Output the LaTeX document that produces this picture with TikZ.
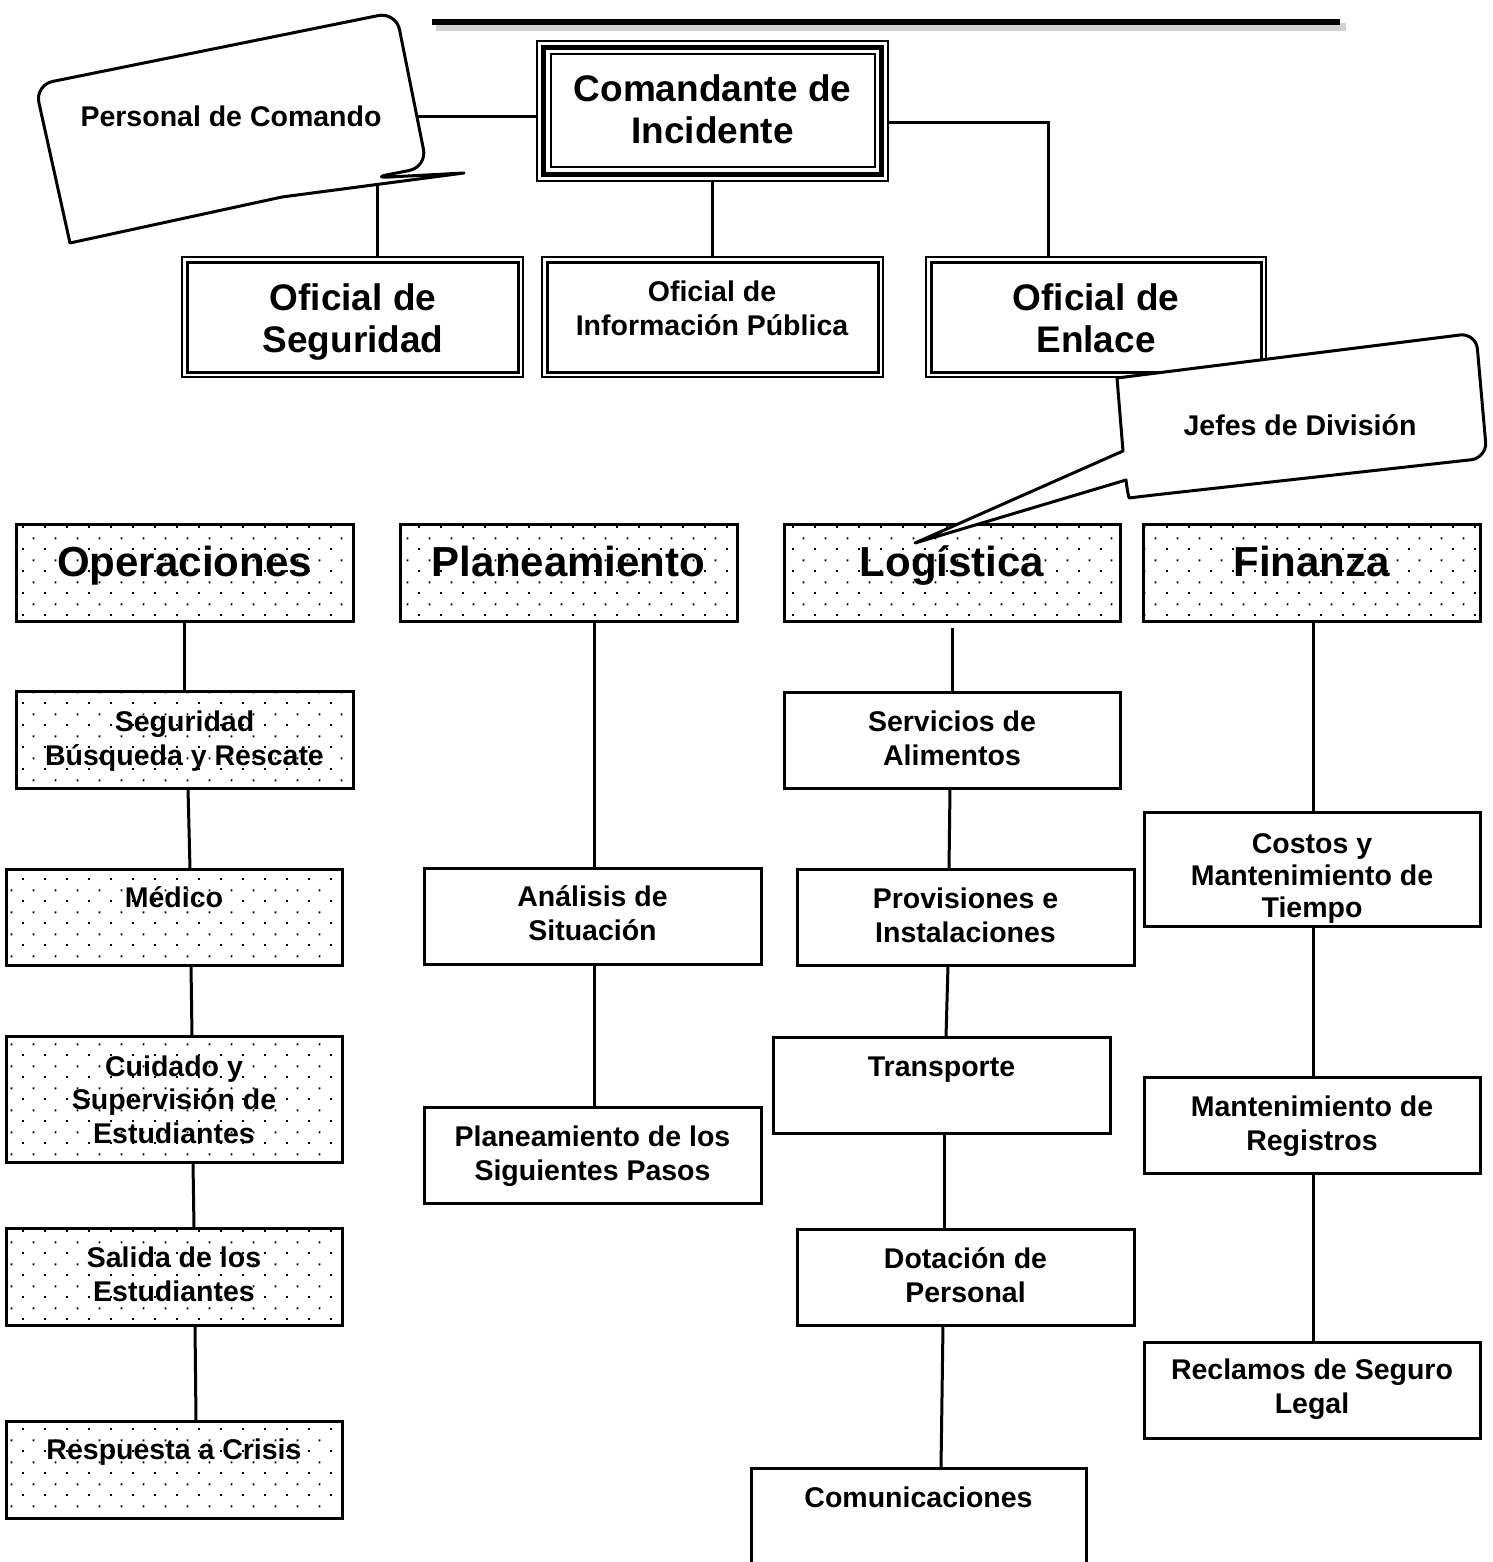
\documentclass[tikz,border=0pt]{standalone}
\usepackage{fontspec}
\setmainfont{Liberation Sans}
\usetikzlibrary{patterns.meta}
\tikzdeclarepattern{
  name=wdots,
  type=uncolored,
  bottom left={(0pt,0pt)},
  top right={(22pt,22pt)},
  tile size={(22pt,22pt)},
  code={
    \pgfpathrectangle{\pgfpoint{0pt}{0pt}}{\pgfpoint{2pt}{2pt}}
    \pgfpathrectangle{\pgfpoint{11pt}{11pt}}{\pgfpoint{2pt}{2pt}}
    \pgfusepath{fill}
  }
}
\newcommand\mkbox[6]{%
  \node[#2, minimum width={(#5-#3)*1pt}, minimum height={(#6-#4)*1pt}] (#1) at ({(#3+#5)/2},{(#4+#6)/2}) {};}
\newcommand\patfill[1]{\fill[pattern=wdots, pattern color=black] ([shift={(2.5pt,2.5pt)}]#1.south west) rectangle ([shift={(-2.5pt,-2.5pt)}]#1.north east);}
\newcommand\dblin[1]{\draw[line width=3pt] ([shift={(5pt,5pt)}]#1.south west) rectangle ([shift={(-5pt,-5pt)}]#1.north east);}
\begin{document}
\begin{tikzpicture}[x=1pt,y=-1pt,
  boxb/.style={draw, line width=3pt, fill=white, inner sep=0pt, outer sep=0pt, rectangle},
  thinb/.style={draw, line width=2pt, fill=white, inner sep=0pt, outer sep=0pt, rectangle},
  conn/.style={line width=3pt},
  txt/.style={font=\bfseries\fontsize{28.5}{34}\selectfont, align=center, inner sep=0pt, anchor=base},
  bigtxt/.style={font=\bfseries\fontsize{37}{42}\selectfont, align=center, inner sep=0pt, anchor=base},
  divtxt/.style={font=\bfseries\fontsize{42}{48}\selectfont, inner sep=0pt, anchor=base},
  callout/.style={draw, line width=3pt, fill=white, line join=round}
]
\useasboundingbox (0,0) rectangle (1492,1562);
\clip (0,0) rectangle (1492,1562);

% top rule with shadow
\draw[line width=8pt, black!18] (436,27) -- (1346,27);
\draw[line width=6pt] (432,22) -- (1340,22);

% command level
\mkbox{cmd}{thinb}{537}{41}{888}{181}
\draw[line width=4.5pt] ([shift={(6.5pt,6.5pt)}]cmd.south west) rectangle ([shift={(-6.5pt,-6.5pt)}]cmd.north east);
\draw[line width=2pt] ([shift={(13.5pt,13.5pt)}]cmd.south west) rectangle ([shift={(-13.5pt,-13.5pt)}]cmd.north east);

\mkbox{seg}{thinb}{182}{257}{523}{377}\dblin{seg}
\mkbox{info}{thinb}{542}{257}{883}{377}\dblin{info}
\mkbox{enl}{thinb}{926}{257}{1266}{377}\dblin{enl}

% divisions
\mkbox{ops}{boxb}{16}{524}{353}{621}
\mkbox{plan}{boxb}{400}{524}{737}{621}
\mkbox{log}{boxb}{784}{524}{1120}{621}
\mkbox{fin}{boxb}{1143}{524}{1480}{621}

% operations column
\mkbox{o1}{boxb}{16}{691}{353}{788}
\mkbox{o2}{boxb}{6}{869}{342}{965}
\mkbox{o3}{boxb}{6}{1036}{342}{1162}
\mkbox{o4}{boxb}{6}{1228}{342}{1325}
\mkbox{o5}{boxb}{6}{1421}{342}{1518}

% planning column
\mkbox{p1}{boxb}{424}{868}{761}{964}
\mkbox{p2}{boxb}{424}{1107}{761}{1203}

% logistics column
\mkbox{l1}{boxb}{784}{692}{1120}{788}
\mkbox{l2}{boxb}{797}{869}{1134}{965}
\mkbox{l3}{boxb}{773}{1037}{1110}{1133}
\mkbox{l4}{boxb}{797}{1229}{1134}{1325}
\mkbox{l5}{boxb}{751}{1468}{1086}{1600}

% finance column
\mkbox{f1}{boxb}{1144}{812}{1480}{926}
\mkbox{f2}{boxb}{1144}{1077}{1480}{1173}
\mkbox{f3}{boxb}{1144}{1342}{1480}{1438}

% connectors
\draw[conn] (cmd.south) -- (info.north);
\draw[conn] ([yshift=-6pt]cmd.west) -| ([xshift=24.5pt]seg.north);
\draw[conn] ([yshift=-12pt]cmd.east) -| ([xshift=-48pt]enl.north);
\draw[conn] (ops.south) -- (o1.north);
\draw[conn] ([xshift=3.5pt]o1.south) -- ([xshift=16pt]o2.north);
\draw[conn] ([xshift=17pt]o2.south) -- ([xshift=18pt]o3.north);
\draw[conn] ([xshift=19pt]o3.south) -- ([xshift=20pt]o4.north);
\draw[conn] ([xshift=21pt]o4.south) -- ([xshift=22pt]o5.north);
\draw[conn] ([xshift=25.5pt]plan.south) -- ([xshift=1.5pt]p1.north);
\draw[conn] ([xshift=1.5pt]p1.south) -- ([xshift=1.5pt]p2.north);
\draw[conn] ([yshift=-7pt]log.south) -- (l1.north);
\draw[conn] ([xshift=-2pt]l1.south) -- ([xshift=-16.5pt]l2.north);
\draw[conn] ([xshift=-17.5pt]l2.south) -- ([xshift=4.5pt]l3.north);
\draw[conn] ([xshift=2.5pt]l3.south) -- ([xshift=-21.5pt]l4.north);
\draw[conn] ([xshift=-22.5pt]l4.south) -- ([xshift=22.5pt]l5.north);
\draw[conn] ([xshift=1.5pt]fin.south) -- ([xshift=1pt]f1.north);
\draw[conn] ([xshift=1pt]f1.south) -- ([xshift=1pt]f2.north);
\draw[conn] ([xshift=1pt]f2.south) -- ([xshift=1pt]f3.north);

% texts (anchor = baseline of last line)
\node[bigtxt] (cmdt) at (712.5,144) {Comandante de\\Incidente};
\node[bigtxt] (segt) at (353,352) {Oficial de\\Seguridad};
\node[txt] (infot) at (712,335) {Oficial de\\Información Pública};
\node[bigtxt] (enlt) at (1096,352) {Oficial de\\Enlace};

\node[divtxt] (opst) at (184.5,576) {Operaciones};
\node[divtxt] (plant) at (568.5,576) {Planeamiento};
\node[divtxt] (logt) at (952,576) {Logística};
\node[divtxt] (fint) at (1311.5,576) {Finanza};

\node[txt] (o1t) at (184.5,765) {Seguridad\\Búsqueda y Rescate};
\node[txt] (o2t) at (174,907) {Médico};
\node[txt, font=\bfseries\fontsize{28.5}{33.5}\selectfont] (o3t) at (174,1143) {Cuidado y\\Supervisión de\\Estudiantes};
\node[txt] (o4t) at (174,1301) {Salida de los\\Estudiantes};
\node[txt] (o5t) at (174,1459) {Respuesta a Crisis};

\node[txt] (p1t) at (592.5,940) {Análisis de\\Situación};
\node[txt] (p2t) at (592.5,1180) {Planeamiento de los\\Siguientes Pasos};

\node[txt] (l1t) at (952,765) {Servicios de\\Alimentos};
\node[txt] (l2t) at (965.5,942) {Provisiones e\\Instalaciones};
\node[txt] (l3t) at (941.5,1076) {Transporte};
\node[txt] (l4t) at (965.5,1302) {Dotación de\\Personal};
\node[txt] (l5t) at (918.5,1507) {Comunicaciones};

\begin{scope}
\clip ([shift={(1.5pt,1.5pt)}]f1.south west) rectangle ([shift={(-1.5pt,-1.5pt)}]f1.north east);
\node[txt, font=\bfseries\fontsize{28.5}{32}\selectfont] (f1t) at (1312,917) {Costos y\\Mantenimiento de\\Tiempo};
\end{scope}
\node[txt] (f2t) at (1312,1150) {Mantenimiento de\\Registros};
\node[txt] (f3t) at (1312,1413) {Reclamos de Seguro\\Legal};

% dotted fills over the shaded boxes
\patfill{ops}\patfill{plan}\patfill{log}\patfill{fin}
\patfill{o1}\patfill{o2}\patfill{o3}\patfill{o4}\patfill{o5}

% callouts
\draw[callout] (52.5,164) [rounded corners=18pt] -- (35,85) -- (396,12) -- (427,167) -- (371,178)
  [sharp corners] -- (464,173) -- (282,197) -- (70,243) [rounded corners=18pt] -- cycle;
\node[txt] (pct) at (231,127) {Personal de Comando};

\draw[callout] (1296,355.5) [rounded corners=16pt] -- (1476,333) -- (1487,458) -- (1145,496)
  [sharp corners] .. controls (1129,498) and (1127,490) .. (1126,480) -- (915,543) -- (1123,451) -- (1117,378) [rounded corners=16pt] -- cycle;
\node[txt] (jdt) at (1300,435) {Jefes de División};
\end{tikzpicture}
\end{document}
